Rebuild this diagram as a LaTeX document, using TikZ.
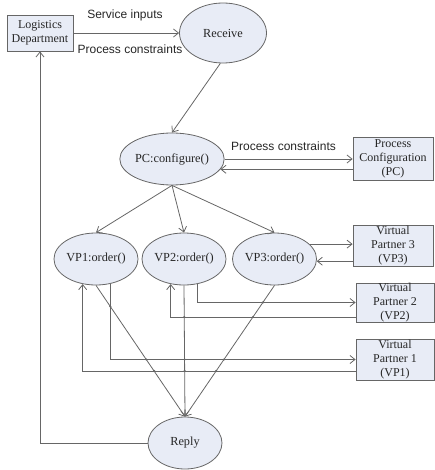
\documentclass[tikz,border=0pt]{standalone}
\usepackage{fontspec}
\setmainfont{Liberation Serif}
\newfontfamily\labfont{Liberation Sans}
\usetikzlibrary{arrows.meta,shapes.geometric,calc,intersections}
\definecolor{nodefill}{HTML}{E8ECF6}
\definecolor{linecol}{HTML}{666666}
\definecolor{txtcol}{HTML}{262626}
\begin{document}
\begin{tikzpicture}[x=1pt,y=-1pt,
  every node/.style={text=txtcol},
  ell/.style={ellipse, draw=linecol, fill=nodefill, line width=0.8pt, inner sep=0pt, font=\fontsize{12.3}{14}\selectfont},
  boxn/.style={rectangle, draw=linecol, fill=nodefill, line width=0.8pt, inner sep=0pt, align=center, font=\fontsize{12}{14}\selectfont},
  arr/.style={draw=linecol, line width=0.8pt, -{Straight Barb[length=5pt,width=8pt]}},
  lab/.style={font=\labfont\fontsize{12}{14}\selectfont, inner sep=0pt},
  hop/.style={fill=linecol}
]
\useasboundingbox (0,0) rectangle (434,470);

% nodes
\node[boxn, minimum width=66pt, minimum height=36pt] (LD) at (40,33) {Logistics\\Department};
\node[ell, minimum width=87pt, minimum height=60pt] (RC) at (223,33) {Receive};
\node[ell, minimum width=100pt, minimum height=52pt] (PC) at (172,159) {PC:configure()};
\node[boxn, minimum width=80pt, minimum height=43pt] (PCB) at (393,158.5) {Process\\Configuration\\(PC)};
\node[ell, minimum width=82pt, minimum height=52pt] (VP1) at (96,259) {VP1:order()};
\node[ell, minimum width=78pt, minimum height=52pt] (VP2) at (184,259) {VP2:order()};
\node[ell, minimum width=78pt, minimum height=52pt] (VP3) at (274.5,259) {VP3:order()};
\node[boxn, minimum width=80pt, minimum height=41pt] (VP3B) at (393,245.5) {Virtual\\Partner 3\\(VP3)};
\node[boxn, minimum width=78pt, minimum height=39pt] (VP2B) at (395,302.5) {Virtual\\Partner 2\\(VP2)};
\node[boxn, minimum width=78pt, minimum height=41pt] (VP1B) at (395,359.5) {Virtual\\Partner 1\\(VP1)};
\node[ell, minimum width=74pt, minimum height=52pt] (RP) at (185,443) {Reply};

% labels
\node[lab] (L1) at (125,15) {Service inputs};
\node[lab] (L2) at (130,49) {Process constraints};
\node[lab] (L3) at (283.5,146) {Process constraints};

% connectors
\draw[arr] (LD.east) -- (RC.west);
\draw[arr] (RC.265) -- (PC.north);
\draw[arr] (PC.east) -- (PC.east -| PCB.west);
\draw[arr] (PCB.west |- PC.-12) -- (PC.-12);
\draw[arr] (PC.south) -- (VP1.north);
\draw[arr] (PC.south) -- (VP2.north);
\draw[arr] (PC.south) -- (VP3.north);
\draw[arr] (VP3.23) -- (VP3.23 -| VP3B.west);
\draw[arr] (VP3B.west |- VP3.-3) -- (VP3.-3);
\draw[arr, name path=h2o] (VP2.-61) |- (VP2B.west);
\draw[arr, name path=h2i] ($(VP2B.west)+(0,14.5)$) -| (VP2.-118);
\draw[arr, name path=h1o] (VP1.-60) |- (VP1B.west);
\draw[arr, name path=h1i] ($(VP1B.west)+(0,11.5)$) -| (VP1.-118);
\draw[arr, name path=d1] (VP1.south) -- (RP.north);
\draw[arr, name path=d2] (VP2.south) -- (RP.north);
\draw[arr, name path=d3] (VP3.south) -- (RP.north);
\draw[arr] (RP.west) -| (LD.south);

% line hops at crossings
\fill[hop, name intersections={of=d1 and h1o, name=a, total=\t}] \foreach \s in {1,...,\t}{(a-\s) circle (1.2pt)};
\fill[hop, name intersections={of=d1 and h1i, name=b}] (b-1) circle (1.2pt);
\fill[hop, name intersections={of=d2 and h2i, name=c}] (c-1) circle (1.2pt);
\fill[hop, name intersections={of=d2 and h1o, name=e}] (e-1) circle (1.2pt);
\fill[hop, name intersections={of=d2 and h1i, name=f}] (f-1) circle (1.2pt);
\fill[hop, name intersections={of=d3 and h2o, name=g}] (g-1) circle (1.2pt);
\fill[hop, name intersections={of=d3 and h2i, name=h}] (h-1) circle (1.2pt);
\fill[hop, name intersections={of=d3 and h1o, name=k}] (k-1) circle (1.2pt);
\fill[hop, name intersections={of=d3 and h1i, name=m}] (m-1) circle (1.2pt);
\end{tikzpicture}
\end{document}
